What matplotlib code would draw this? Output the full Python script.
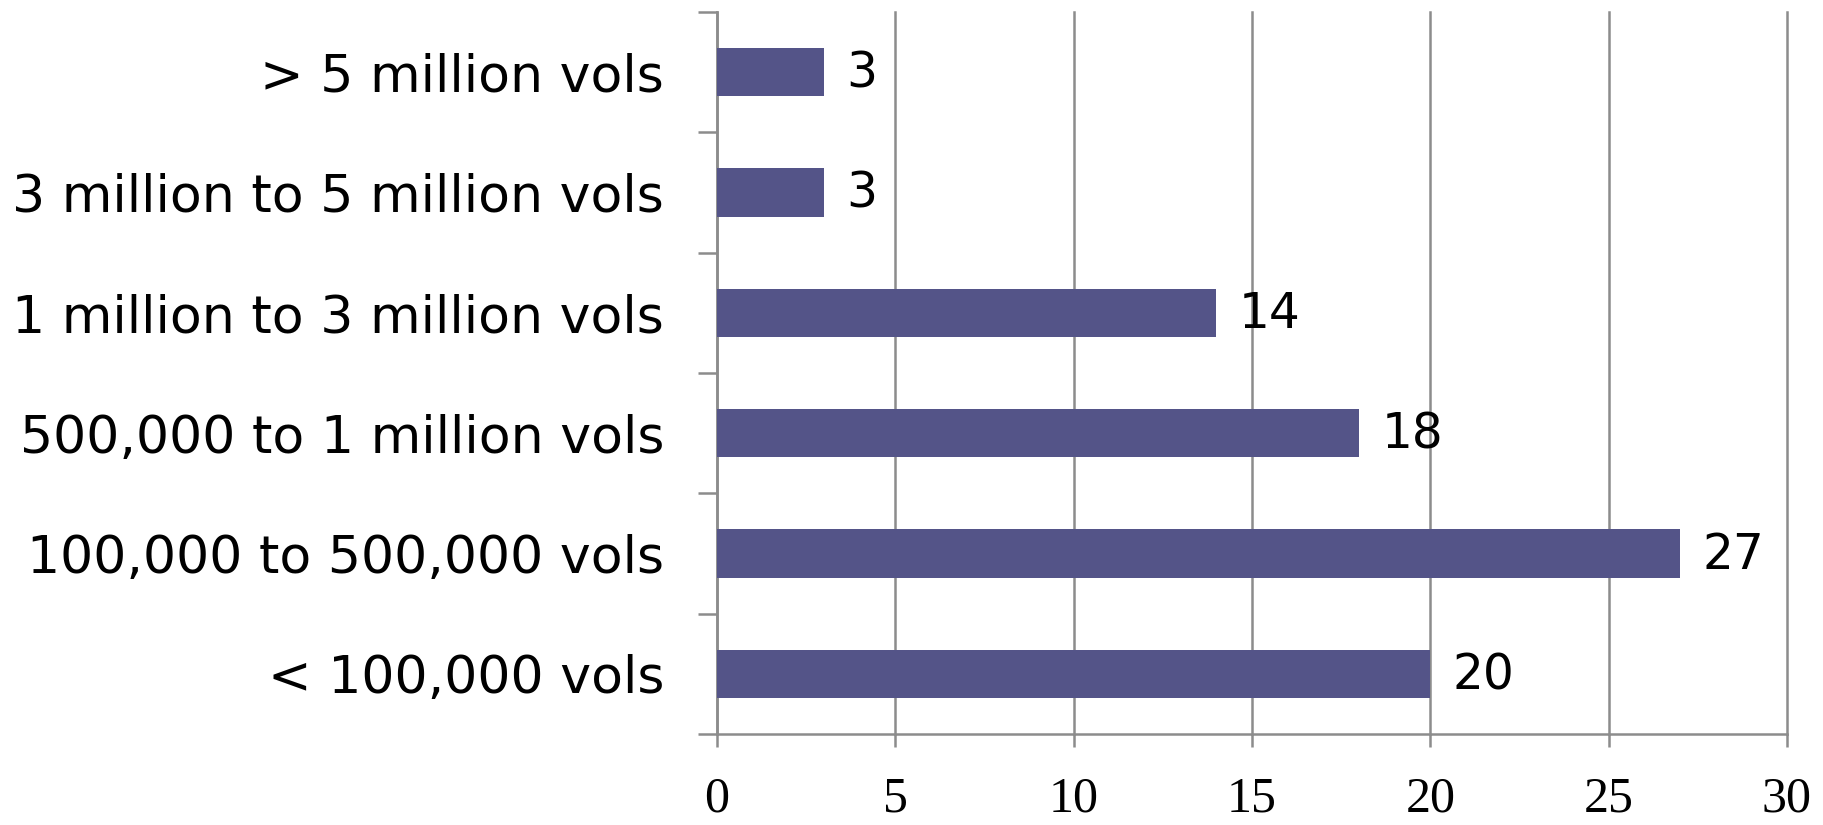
import matplotlib
matplotlib.use("Agg")
import matplotlib.pyplot as plt

categories = ["< 100,000 vols", "100,000 to 500,000 vols", "500,000 to 1 million vols",
              "1 million to 3 million vols", "3 million to 5 million vols", "> 5 million vols"]
values = [20, 27, 18, 14, 3, 3]
xticks = [0, 5, 10, 15, 20, 25, 30]

W, H = 1824, 825
fig = plt.figure(figsize=(W / 100, H / 100), dpi=100)
ax = fig.add_axes([717 / W, 1 - 734 / H, (1787 - 717) / W, (734 - 12) / H])

bar_color = "#545488"
grid_color = "#8c8c8c"

ypos = list(range(len(categories)))
ax.barh(ypos, values, height=0.4, color=bar_color, zorder=3)
ax.set_xlim(0, 30)
ax.set_ylim(-0.5, len(categories) - 0.5)

ax.set_yticks(ypos)
ax.set_yticklabels(categories, fontsize=37.5, family="DejaVu Sans")
ax.set_yticks([i - 0.5 for i in range(len(categories) + 1)], minor=True)
ax.tick_params(axis="y", which="major", length=0, pad=38)
ax.tick_params(axis="y", which="minor", length=13.7, width=1.8, color=grid_color)

ax.set_xticks(xticks)
ax.set_xticklabels([str(t) for t in xticks], fontsize=36, family="Liberation Serif")
ax.tick_params(axis="x", length=9.4, width=1.8, color=grid_color, pad=21)

ax.grid(axis="x", color=grid_color, linewidth=1.8, zorder=0)
for gl in ax.get_xgridlines():
    gl.set_clip_on(False)
for s in ["top", "right"]:
    ax.spines[s].set_visible(False)
for s in ["left", "bottom"]:
    ax.spines[s].set_color(grid_color)
    ax.spines[s].set_linewidth(1.8)

for y, v in zip(ypos, values):
    ax.annotate(str(v), (v, y), xytext=(16, -1), textcoords="offset points",
                va="center", ha="left", fontsize=35, family="DejaVu Sans")

fig.savefig("out.png", dpi=100)
